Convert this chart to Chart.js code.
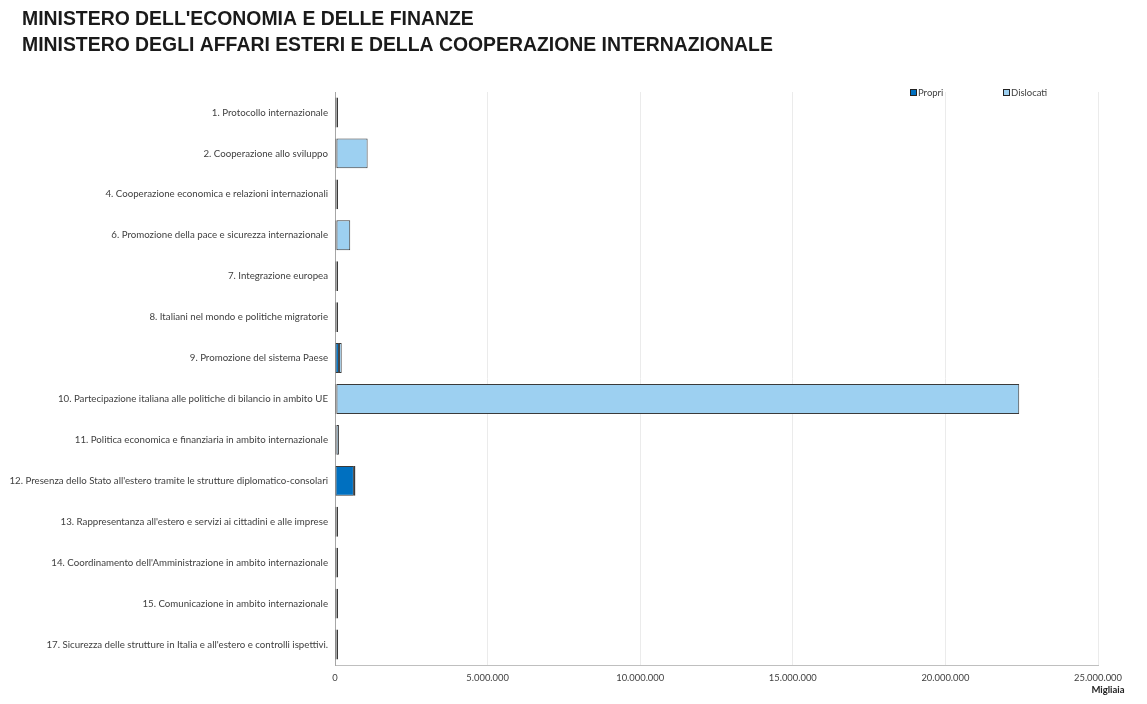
<!DOCTYPE html>
<html>
<head>
<meta charset="utf-8">
<script src="https://cdn.jsdelivr.net/npm/chart.js@4.4.1/dist/chart.umd.min.js"></script>
<style>
html,body{margin:0;padding:0;background:#fff;}
#wrap{position:relative;width:1147px;height:704px;}
</style>
</head>
<body>
<div id="wrap"><canvas id="c" width="1147" height="704"></canvas></div>
<script>
const titleLines = ["MINISTERO DELL'ECONOMIA E DELLE FINANZE", "MINISTERO DEGLI AFFARI ESTERI E DELLA COOPERAZIONE INTERNAZIONALE"];
const categories = [
  "1. Protocollo internazionale",
  "2. Cooperazione allo sviluppo",
  "4. Cooperazione economica e relazioni internazionali",
  "6. Promozione della pace e sicurezza internazionale",
  "7. Integrazione europea",
  "8. Italiani nel mondo e politiche migratorie",
  "9. Promozione del sistema Paese",
  "10. Partecipazione italiana alle politiche di bilancio in ambito UE",
  "11. Politica economica e finanziaria in ambito internazionale",
  "12. Presenza dello Stato all'estero tramite le strutture diplomatico-consolari",
  "13. Rappresentanza all'estero e servizi ai cittadini e alle imprese",
  "14. Coordinamento dell'Amministrazione in ambito internazionale",
  "15. Comunicazione in ambito internazionale",
  "17. Sicurezza delle strutture in Italia e all'estero e controlli ispettivi."
];
const seriesNames = ["Propri", "Dislocati"];
const propri =    [20000, 30000, 30000, 20000, 15000, 40000, 130000, 10000, 10000, 620000, 20000, 20000, 10000, 15000];
const dislocati = [10000, 1020000, 30000, 450000, 15000, 25000, 90000, 22370000, 80000, 10000, 5000, 10000, 5000, 10000];
const xMax = 25000000;
const xStep = 5000000;
const axisTitle = "Migliaia";

const FONT = "Lato, 'Open Sans', sans-serif";
const TITLE_FONT = "bold 19.4px 'Liberation Sans', Arial, sans-serif";
const colors = ["#0070C0", "#9DD0F1"];

function fmt(v){ return String(Math.round(v)).replace(/\B(?=(\d{3})+(?!\d))/g, "."); }

const decorPlugin = {
  id: 'decor',
  afterDraw(chart){
    const ctx = chart.ctx;
    ctx.save();
    // title
    ctx.font = TITLE_FONT;
    ctx.fillStyle = '#1a1a1a';
    ctx.textAlign = 'left';
    ctx.textBaseline = 'middle';
    titleLines.forEach((t, i) => ctx.fillText(t, 22, 20 + i * 26));
    // legend
    const pos = [910, 1003];
    const y = 92;
    ctx.font = "9.5px " + FONT;
    chart.data.datasets.forEach((ds, i) => {
      const x = pos[i];
      ctx.fillStyle = ds.backgroundColor;
      ctx.fillRect(x, y - 3, 7, 7);
      ctx.strokeStyle = '#222';
      ctx.lineWidth = 1;
      ctx.strokeRect(x + 0.5, y - 2.5, 6, 6);
      ctx.fillStyle = '#404040';
      ctx.fillText(ds.label, x + 8, y + 0.5);
    });
    // axis title
    const xs = chart.scales.x;
    ctx.font = "bold 9.5px " + FONT;
    ctx.fillStyle = '#222';
    ctx.textAlign = 'center';
    ctx.fillText(axisTitle, xs.right + 10, 690);
    ctx.restore();
  }
};

new Chart(document.getElementById('c'), {
  type: 'bar',
  data: {
    labels: categories,
    datasets: [
      { label: seriesNames[0], data: propri, backgroundColor: colors[0], borderColor: '#3a3a3a', borderWidth: 1, borderSkipped: false, minBarLength: 1.5 },
      { label: seriesNames[1], data: dislocati, backgroundColor: colors[1], borderColor: '#3a3a3a', borderWidth: 1, borderSkipped: false, minBarLength: 1.5 }
    ]
  },
  options: {
    indexAxis: 'y',
    responsive: false,
    animation: false,
    categoryPercentage: 0.73,
    barPercentage: 1,
    layout: { padding: { left: 0, right: 49, top: 92, bottom: 0 } },
    plugins: {
      legend: { display: false },
      tooltip: { enabled: false },
      title: { display: false }
    },
    scales: {
      x: {
        stacked: true,
        min: 0,
        max: xMax,
        afterFit(s){ s.height = 39; },
        ticks: { stepSize: xStep, callback: v => fmt(v), color: '#404040', font: { family: FONT, size: 9.4 }, padding: 7, maxRotation: 0 },
        grid: { color: '#ebebeb', drawTicks: false },
        border: { color: '#bfbfbf' }
      },
      y: {
        stacked: true,
        afterFit(s){ s.width = 335; },
        ticks: { color: '#404040', font: { family: FONT, size: 9.7 }, padding: 7, autoSkip: false },
        grid: { display: false, drawTicks: false },
        border: { color: '#a6a6a6' }
      }
    }
  },
  plugins: [decorPlugin]
});
</script>
</body>
</html>
